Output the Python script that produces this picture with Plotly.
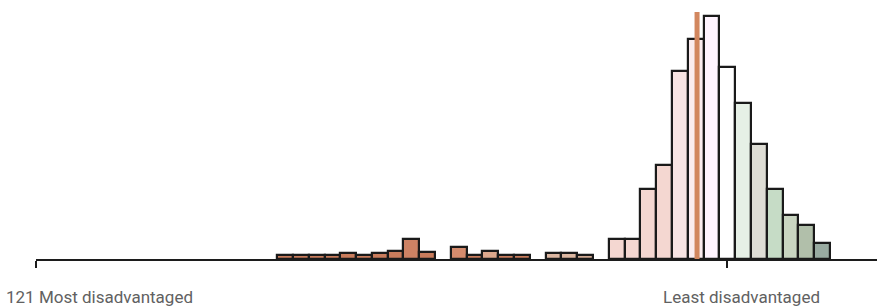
import plotly.graph_objects as go

# Histogram bins (index 0 = most disadvantaged side of the distribution)
bins = list(range(35))
heights = [4, 4, 4, 4, 6, 4, 6, 8, 20.5, 7.5,
           None, 12, 4, 8, 4, 4, None, 6, 6, 4,
           None, 20.5, 20.5, 70.5, 94, 188, 220, 243, 192, 156,
           115, 70.5, 44, 34, 16.5]
colors = ["#c97c5c"] * 8 + ["#cd8264", "#c97c5c", "#c97c5c", "#d48b6d", "#c97c5c", "#dda88d",
          "#c97c5c", "#c97c5c", "#c97c5c", "#dcb7a2", "#dcb7a2", "#d2ab94",
          "#c97c5c", "#f4d7d1", "#f4d7d1", "#f4d7d1", "#f4d7d1", "#f7e4e3",
          "#fbedf0", "#fff4ff", "#ffffff", "#e6f0e6", "#deddd5", "#c6dcc6",
          "#c9d5c1", "#b1bfaa", "#99aba1"]

marker_bin = 26.08
marker_height = 247

axis_ticks = [-15.76, 28]
label_left = "121 Most disadvantaged"
label_right = "Least disadvantaged"

fig = go.Figure()
fig.add_trace(go.Bar(
    x=bins, y=heights, width=1,
    marker=dict(color=colors, line=dict(color="#1a1a1a", width=2.2)),
    hoverinfo="skip"))
fig.add_trace(go.Scatter(
    x=[marker_bin, marker_bin], y=[0, marker_height], mode="lines",
    line=dict(color="#d2875f", width=5), hoverinfo="skip"))

fig.update_layout(
    width=877, height=307,
    margin=dict(l=0, r=0, t=0, b=48),
    paper_bgcolor="white", plot_bgcolor="white",
    showlegend=False, bargap=0,
    xaxis=dict(domain=[36 / 877, 1], range=[-15.76, 37.47],
               showgrid=False, zeroline=False, showline=True,
               linecolor="#1c1c1c", linewidth=2,
               ticks="outside", ticklen=7, tickwidth=2, tickcolor="#1c1c1c",
               tickvals=axis_ticks, showticklabels=False),
    yaxis=dict(range=[0, 259], visible=False),
    font=dict(family="Roboto", color="#616161", size=17),
    annotations=[
        dict(text=label_left, xref="paper", yref="paper", x=4 / 877, y=-0.145,
             xanchor="left", yanchor="middle", showarrow=False,
             font=dict(size=17, color="#616161")),
        dict(text=label_right, xref="paper", yref="paper", x=741 / 877, y=-0.145,
             xanchor="center", yanchor="middle", showarrow=False,
             font=dict(size=17, color="#616161")),
    ],
)
fig.write_html("out.html", config={"displayModeBar": False},
               post_script="document.body.style.margin='0';")
